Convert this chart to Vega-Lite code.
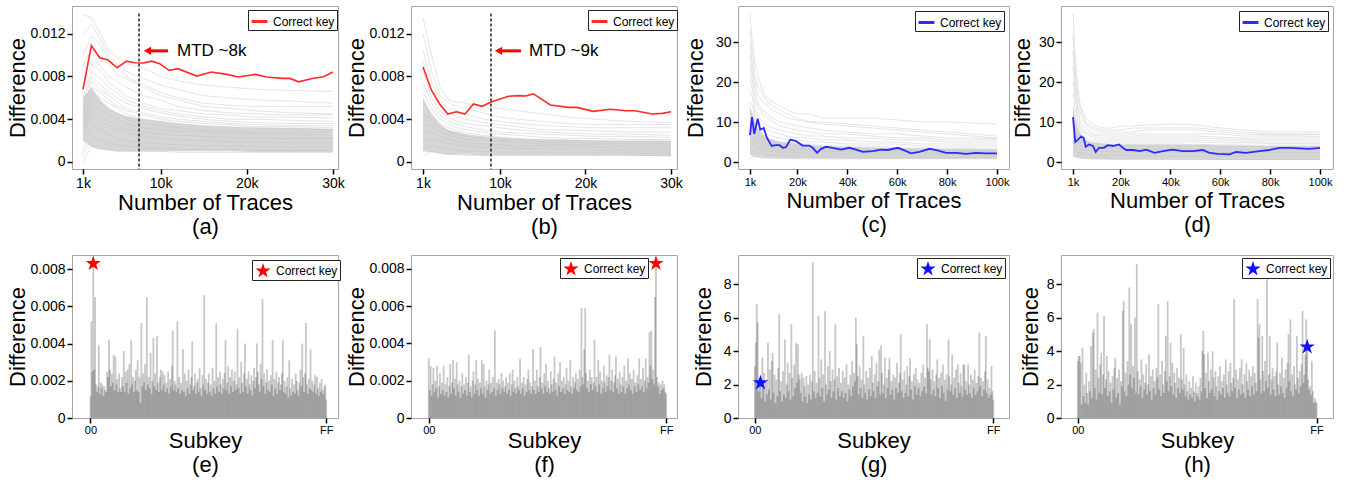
{
"$schema": "https://vega.github.io/schema/vega-lite/v6.json",
"background": "white",
"padding": {"left": 6, "top": 5, "right": 5, "bottom": 2},
"config": {
 "font": "Liberation Sans",
 "view": {"stroke": "#a6a6a6", "strokeWidth": 1},
 "axis": {"domain": false, "grid": false, "tickColor": "#000", "tickWidth": 1.5, "tickSize": 5, "labelColor": "#000", "labelFontSize": 14, "labelPadding": 2, "labelOverlap": false, "titleFontSize": 22, "titleFontWeight": "normal", "titleColor": "#000"},
 "legend": {"strokeColor": "#222", "fillColor": "#fff", "padding": 2, "labelFontSize": 12, "labelColor": "#000"}
},
"datasets": {
 "A": [
  {"x":1000,"lo":0.002,"hi":0.006,"l1":0.0138,"l2":0.012,"l3":0.01,"l4":0.009,"l5":0.008,"l6":0.007,"l7":0.006,"l8":0.0055,"l9":0.005,"l10":0.0045,"l11":0.004,"l12":0.0035,"l13":0.003,"l14":0.0025,"l15":0.002,"l16":0.001,"l17":0.0005,"l18":0},
  {"x":2000,"lo":0.0014,"hi":0.007,"l1":0.0135,"l2":0.0128,"l3":0.0118,"l4":0.0105,"l5":0.0095,"l6":0.0092,"l7":0.0085,"l8":0.008,"l9":0.0075,"l10":0.007,"l11":0.0065,"l12":0.006,"l13":0.0055,"l14":0.005,"l15":0.0045,"l16":0.0035,"l17":0.0025,"l18":0.0015},
  {"x":3000,"lo":0.0012,"hi":0.0058,"l1":0.012,"l2":0.0115,"l3":0.011,"l4":0.0096,"l5":0.009,"l6":0.0085,"l7":0.0078,"l8":0.0072,"l9":0.0068,"l10":0.0065,"l11":0.006,"l12":0.0055,"l13":0.0048,"l14":0.0042,"l15":0.0038,"l16":0.003,"l17":0.002,"l18":0.0012},
  {"x":4000,"lo":0.0011,"hi":0.005,"l1":0.0105,"l2":0.01,"l3":0.0095,"l4":0.0092,"l5":0.008,"l6":0.0075,"l7":0.007,"l8":0.0065,"l9":0.0062,"l10":0.0058,"l11":0.0055,"l12":0.005,"l13":0.0044,"l14":0.0038,"l15":0.0034,"l16":0.0026,"l17":0.0018,"l18":0.0011},
  {"x":5000,"lo":0.001,"hi":0.0046,"l1":0.0098,"l2":0.009,"l3":0.0088,"l4":0.0082,"l5":0.0075,"l6":0.0068,"l7":0.0064,"l8":0.006,"l9":0.0056,"l10":0.0052,"l11":0.005,"l12":0.0045,"l13":0.004,"l14":0.0034,"l15":0.003,"l16":0.0022,"l17":0.0016,"l18":0.001},
  {"x":6000,"lo":0.001,"hi":0.0043,"l1":0.0092,"l2":0.0085,"l3":0.008,"l4":0.0078,"l5":0.007,"l6":0.0062,"l7":0.0058,"l8":0.0055,"l9":0.005,"l10":0.0048,"l11":0.0045,"l12":0.004,"l13":0.0036,"l14":0.003,"l15":0.0027,"l16":0.002,"l17":0.0015,"l18":0.001},
  {"x":8000,"lo":0.001,"hi":0.004,"l1":0.0088,"l2":0.0078,"l3":0.0072,"l4":0.007,"l5":0.0062,"l6":0.0055,"l7":0.0052,"l8":0.005,"l9":0.0046,"l10":0.0044,"l11":0.004,"l12":0.0036,"l13":0.0032,"l14":0.0028,"l15":0.0024,"l16":0.0018,"l17":0.0013,"l18":0.001},
  {"x":10000,"lo":0.001,"hi":0.0038,"l1":0.008,"l2":0.0072,"l3":0.0065,"l4":0.0062,"l5":0.0058,"l6":0.005,"l7":0.0048,"l8":0.0046,"l9":0.0042,"l10":0.004,"l11":0.0038,"l12":0.0034,"l13":0.003,"l14":0.0026,"l15":0.0022,"l16":0.0017,"l17":0.0013,"l18":0.001},
  {"x":12000,"lo":0.001,"hi":0.0036,"l1":0.0076,"l2":0.0068,"l3":0.006,"l4":0.0058,"l5":0.0052,"l6":0.0048,"l7":0.0045,"l8":0.0043,"l9":0.004,"l10":0.0038,"l11":0.0036,"l12":0.0032,"l13":0.0029,"l14":0.0025,"l15":0.0021,"l16":0.0016,"l17":0.0012,"l18":0.0009},
  {"x":15000,"lo":0.001,"hi":0.0034,"l1":0.0072,"l2":0.0062,"l3":0.0055,"l4":0.0052,"l5":0.0048,"l6":0.0045,"l7":0.0042,"l8":0.004,"l9":0.0038,"l10":0.0036,"l11":0.0034,"l12":0.003,"l13":0.0028,"l14":0.0024,"l15":0.002,"l16":0.0015,"l17":0.0012,"l18":0.0009},
  {"x":18000,"lo":0.001,"hi":0.0033,"l1":0.007,"l2":0.006,"l3":0.0053,"l4":0.005,"l5":0.0046,"l6":0.0044,"l7":0.004,"l8":0.0038,"l9":0.0036,"l10":0.0035,"l11":0.0033,"l12":0.0029,"l13":0.0027,"l14":0.0023,"l15":0.0019,"l16":0.0015,"l17":0.0012,"l18":0.0009},
  {"x":21000,"lo":0.0009,"hi":0.0032,"l1":0.0068,"l2":0.0058,"l3":0.0052,"l4":0.0048,"l5":0.0045,"l6":0.0042,"l7":0.004,"l8":0.0037,"l9":0.0035,"l10":0.0033,"l11":0.0032,"l12":0.0028,"l13":0.0026,"l14":0.0022,"l15":0.0019,"l16":0.0014,"l17":0.0011,"l18":0.0009},
  {"x":25000,"lo":0.0009,"hi":0.0032,"l1":0.0067,"l2":0.0057,"l3":0.0052,"l4":0.0046,"l5":0.0044,"l6":0.0042,"l7":0.0039,"l8":0.0036,"l9":0.0034,"l10":0.0033,"l11":0.0031,"l12":0.0028,"l13":0.0026,"l14":0.0022,"l15":0.0018,"l16":0.0014,"l17":0.0011,"l18":0.0009},
  {"x":30000,"lo":0.0009,"hi":0.0031,"l1":0.0066,"l2":0.0055,"l3":0.0052,"l4":0.0045,"l5":0.0044,"l6":0.0041,"l7":0.0038,"l8":0.0036,"l9":0.0034,"l10":0.0032,"l11":0.003,"l12":0.0028,"l13":0.0025,"l14":0.0022,"l15":0.0018,"l16":0.0014,"l17":0.0011,"l18":0.0009}
 ],
 "B": [
  {"x":1000,"lo":0.001,"hi":0.006,"l1":0.0135,"l2":0.012,"l3":0.0105,"l4":0.0095,"l5":0.0085,"l6":0.0075,"l7":0.0065,"l8":0.0055,"l9":0.0045,"l10":0.0035,"l11":0.0028,"l12":0.002,"l13":0.0012,"l14":0.0005},
  {"x":2000,"lo":0.0009,"hi":0.0045,"l1":0.01,"l2":0.0085,"l3":0.0075,"l4":0.0068,"l5":0.006,"l6":0.0055,"l7":0.005,"l8":0.0045,"l9":0.004,"l10":0.0034,"l11":0.0028,"l12":0.0022,"l13":0.0016,"l14":0.001},
  {"x":3000,"lo":0.0008,"hi":0.0035,"l1":0.007,"l2":0.0062,"l3":0.0058,"l4":0.0052,"l5":0.0048,"l6":0.0044,"l7":0.004,"l8":0.0036,"l9":0.0032,"l10":0.0028,"l11":0.0024,"l12":0.002,"l13":0.0014,"l14":0.0008},
  {"x":4000,"lo":0.0007,"hi":0.003,"l1":0.0058,"l2":0.0055,"l3":0.005,"l4":0.0046,"l5":0.0042,"l6":0.0038,"l7":0.0035,"l8":0.0032,"l9":0.0028,"l10":0.0025,"l11":0.0021,"l12":0.0017,"l13":0.0012,"l14":0.0007},
  {"x":5000,"lo":0.0007,"hi":0.0028,"l1":0.0056,"l2":0.0052,"l3":0.0048,"l4":0.0042,"l5":0.0038,"l6":0.0035,"l7":0.0032,"l8":0.0029,"l9":0.0026,"l10":0.0023,"l11":0.0019,"l12":0.0016,"l13":0.0011,"l14":0.0007},
  {"x":6000,"lo":0.0007,"hi":0.0026,"l1":0.0055,"l2":0.005,"l3":0.0045,"l4":0.004,"l5":0.0036,"l6":0.0033,"l7":0.003,"l8":0.0027,"l9":0.0024,"l10":0.0021,"l11":0.0018,"l12":0.0015,"l13":0.001,"l14":0.0006},
  {"x":8000,"lo":0.0006,"hi":0.0024,"l1":0.0052,"l2":0.0046,"l3":0.004,"l4":0.0037,"l5":0.0034,"l6":0.003,"l7":0.0028,"l8":0.0025,"l9":0.0022,"l10":0.002,"l11":0.0017,"l12":0.0014,"l13":0.001,"l14":0.0006},
  {"x":10000,"lo":0.0006,"hi":0.0023,"l1":0.005,"l2":0.0042,"l3":0.0038,"l4":0.0035,"l5":0.0032,"l6":0.0028,"l7":0.0026,"l8":0.0023,"l9":0.0021,"l10":0.0019,"l11":0.0016,"l12":0.0013,"l13":0.0009,"l14":0.0006},
  {"x":12000,"lo":0.0006,"hi":0.0022,"l1":0.0048,"l2":0.004,"l3":0.0036,"l4":0.0033,"l5":0.003,"l6":0.0027,"l7":0.0025,"l8":0.0022,"l9":0.002,"l10":0.0018,"l11":0.0015,"l12":0.0013,"l13":0.0009,"l14":0.0006},
  {"x":15000,"lo":0.0006,"hi":0.0021,"l1":0.0045,"l2":0.0038,"l3":0.0034,"l4":0.003,"l5":0.0028,"l6":0.0026,"l7":0.0023,"l8":0.0021,"l9":0.0019,"l10":0.0017,"l11":0.0015,"l12":0.0012,"l13":0.0009,"l14":0.0006},
  {"x":18000,"lo":0.0006,"hi":0.0021,"l1":0.0042,"l2":0.0036,"l3":0.0033,"l4":0.003,"l5":0.0027,"l6":0.0025,"l7":0.0022,"l8":0.002,"l9":0.0018,"l10":0.0016,"l11":0.0014,"l12":0.0012,"l13":0.0008,"l14":0.0006},
  {"x":21000,"lo":0.0006,"hi":0.002,"l1":0.004,"l2":0.0035,"l3":0.0032,"l4":0.0029,"l5":0.0026,"l6":0.0024,"l7":0.0022,"l8":0.002,"l9":0.0018,"l10":0.0016,"l11":0.0014,"l12":0.0011,"l13":0.0008,"l14":0.0006},
  {"x":25000,"lo":0.0006,"hi":0.002,"l1":0.0038,"l2":0.0035,"l3":0.0032,"l4":0.0028,"l5":0.0026,"l6":0.0024,"l7":0.0021,"l8":0.0019,"l9":0.0017,"l10":0.0015,"l11":0.0013,"l12":0.0011,"l13":0.0008,"l14":0.0006},
  {"x":30000,"lo":0.0005,"hi":0.002,"l1":0.0037,"l2":0.0035,"l3":0.0032,"l4":0.0028,"l5":0.0025,"l6":0.0023,"l7":0.0021,"l8":0.0019,"l9":0.0017,"l10":0.0015,"l11":0.0013,"l12":0.0011,"l13":0.0008,"l14":0.0006}
 ],
 "C": [
  {"x":1000,"lo":2,"hi":14,"l1":37,"l2":33,"l3":30,"l4":27,"l5":24,"l6":21,"l7":18,"l8":15,"l9":12,"l10":10,"l11":8,"l12":6,"l13":4,"l14":2,"l15":0.5},
  {"x":2000,"lo":1.5,"hi":12,"l1":30,"l2":27,"l3":24,"l4":22,"l5":20,"l6":18,"l7":16,"l8":14,"l9":12,"l10":10,"l11":8,"l12":6,"l13":5,"l14":3,"l15":1.5},
  {"x":3000,"lo":1.3,"hi":10,"l1":25,"l2":22,"l3":20,"l4":18,"l5":16,"l6":14,"l7":12,"l8":11,"l9":9,"l10":8,"l11":7,"l12":5.5,"l13":4,"l14":2.5,"l15":1.2},
  {"x":4000,"lo":1.2,"hi":8.5,"l1":22,"l2":19,"l3":17,"l4":15,"l5":14,"l6":12,"l7":10,"l8":9,"l9":8,"l10":7,"l11":6,"l12":5,"l13":3.5,"l14":2.2,"l15":1.1},
  {"x":6000,"lo":1.1,"hi":7,"l1":18,"l2":17,"l3":15,"l4":13,"l5":12,"l6":10,"l7":9,"l8":8,"l9":7,"l10":6,"l11":5,"l12":4,"l13":3,"l14":2,"l15":1},
  {"x":8000,"lo":1,"hi":6,"l1":16,"l2":15,"l3":14,"l4":12,"l5":11,"l6":9,"l7":8,"l8":7,"l9":6,"l10":5.5,"l11":4.5,"l12":3.5,"l13":2.8,"l14":1.8,"l15":1},
  {"x":10000,"lo":1,"hi":5.5,"l1":15,"l2":14,"l3":13,"l4":11,"l5":10,"l6":8.5,"l7":7.5,"l8":6.5,"l9":5.5,"l10":5,"l11":4,"l12":3.5,"l13":2.6,"l14":1.7,"l15":0.9},
  {"x":13000,"lo":1,"hi":5,"l1":14,"l2":13,"l3":12,"l4":10,"l5":9,"l6":8,"l7":7,"l8":6,"l9":5,"l10":4.5,"l11":4,"l12":3,"l13":2.5,"l14":1.6,"l15":0.9},
  {"x":16000,"lo":0.9,"hi":4.8,"l1":13,"l2":12,"l3":11,"l4":9.5,"l5":8.5,"l6":7.5,"l7":6.5,"l8":5.5,"l9":5,"l10":4.5,"l11":3.5,"l12":3,"l13":2.4,"l14":1.5,"l15":0.9},
  {"x":20000,"lo":0.9,"hi":4.5,"l1":12,"l2":11,"l3":10.5,"l4":9,"l5":8,"l6":7,"l7":6,"l8":5.5,"l9":4.5,"l10":4,"l11":3.5,"l12":3,"l13":2.3,"l14":1.5,"l15":0.8},
  {"x":25000,"lo":0.9,"hi":4.2,"l1":12,"l2":10,"l3":10,"l4":8.5,"l5":7.5,"l6":6.5,"l7":6,"l8":5,"l9":4.5,"l10":4,"l11":3.5,"l12":2.8,"l13":2.2,"l14":1.4,"l15":0.8},
  {"x":30000,"lo":0.9,"hi":4,"l1":11,"l2":10,"l3":9.5,"l4":8,"l5":7,"l6":6.5,"l7":5.5,"l8":5,"l9":4,"l10":3.5,"l11":3,"l12":2.7,"l13":2.1,"l14":1.4,"l15":0.8},
  {"x":40000,"lo":0.8,"hi":3.8,"l1":11,"l2":9.5,"l3":9,"l4":7.5,"l5":7,"l6":6,"l7":5.5,"l8":4.5,"l9":4,"l10":3.5,"l11":3,"l12":2.6,"l13":2,"l14":1.3,"l15":0.8},
  {"x":50000,"lo":0.8,"hi":3.6,"l1":11,"l2":9,"l3":8.5,"l4":7,"l5":6.5,"l6":6,"l7":5,"l8":4.5,"l9":4,"l10":3.5,"l11":3,"l12":2.5,"l13":2,"l14":1.3,"l15":0.8},
  {"x":60000,"lo":0.8,"hi":3.5,"l1":10.5,"l2":8.5,"l3":8,"l4":7,"l5":6,"l6":5.5,"l7":5,"l8":4.5,"l9":3.5,"l10":3,"l11":2.8,"l12":2.5,"l13":2,"l14":1.3,"l15":0.8},
  {"x":70000,"lo":0.8,"hi":3.4,"l1":10,"l2":8,"l3":7.5,"l4":6.5,"l5":6,"l6":5.5,"l7":4.5,"l8":4,"l9":3.5,"l10":3,"l11":2.8,"l12":2.4,"l13":1.9,"l14":1.2,"l15":0.8},
  {"x":80000,"lo":0.8,"hi":3.3,"l1":10,"l2":7.5,"l3":7,"l4":6,"l5":5.5,"l6":5,"l7":4.5,"l8":4,"l9":3.5,"l10":3,"l11":2.8,"l12":2.4,"l13":1.9,"l14":1.2,"l15":0.8},
  {"x":90000,"lo":0.8,"hi":3.3,"l1":9.8,"l2":7,"l3":6.5,"l4":6,"l5":5.5,"l6":5,"l7":4.5,"l8":4,"l9":3.5,"l10":3,"l11":2.7,"l12":2.3,"l13":1.8,"l14":1.2,"l15":0.8},
  {"x":100000,"lo":0.8,"hi":3.2,"l1":9.5,"l2":6.5,"l3":6,"l4":5.8,"l5":5.5,"l6":5,"l7":4.5,"l8":4,"l9":3.5,"l10":3,"l11":2.7,"l12":2.3,"l13":1.8,"l14":1.2,"l15":0.8}
 ],
 "D": [
  {"x":1000,"lo":1.5,"hi":14,"l1":37,"l2":32,"l3":28,"l4":24,"l5":20,"l6":17,"l7":14,"l8":12,"l9":10,"l10":8,"l11":6,"l12":4,"l13":2.5,"l14":1},
  {"x":2000,"lo":1.2,"hi":10,"l1":25,"l2":22,"l3":19,"l4":17,"l5":15,"l6":13,"l7":11,"l8":10,"l9":8.5,"l10":7,"l11":5.5,"l12":4,"l13":2.8,"l14":1.5},
  {"x":3000,"lo":1,"hi":8,"l1":18,"l2":16,"l3":14,"l4":13,"l5":11,"l6":10,"l7":9,"l8":8,"l9":7,"l10":6,"l11":5,"l12":3.5,"l13":2.4,"l14":1.2},
  {"x":4000,"lo":0.9,"hi":6.5,"l1":14,"l2":13,"l3":12,"l4":10,"l5":9,"l6":8,"l7":7,"l8":6.5,"l9":6,"l10":5,"l11":4,"l12":3.2,"l13":2.2,"l14":1},
  {"x":6000,"lo":0.8,"hi":5.5,"l1":11,"l2":10,"l3":9.5,"l4":8.5,"l5":7.5,"l6":7,"l7":6,"l8":5.5,"l9":5,"l10":4.5,"l11":3.8,"l12":3,"l13":2,"l14":0.9},
  {"x":8000,"lo":0.7,"hi":5,"l1":10,"l2":9,"l3":8.5,"l4":7.5,"l5":7,"l6":6.5,"l7":5.5,"l8":5,"l9":4.5,"l10":4,"l11":3.5,"l12":2.8,"l13":1.8,"l14":0.8},
  {"x":10000,"lo":0.7,"hi":4.8,"l1":9,"l2":8.5,"l3":8,"l4":7,"l5":6.5,"l6":6,"l7":5.5,"l8":5,"l9":4.5,"l10":4,"l11":3.5,"l12":2.8,"l13":1.8,"l14":0.8},
  {"x":13000,"lo":0.7,"hi":4.6,"l1":8.5,"l2":8,"l3":7.5,"l4":7,"l5":6.5,"l6":6,"l7":5.5,"l8":5,"l9":4.5,"l10":4,"l11":3.5,"l12":2.7,"l13":1.7,"l14":0.8},
  {"x":16000,"lo":0.6,"hi":4.5,"l1":8.5,"l2":8,"l3":7.5,"l4":7,"l5":6.5,"l6":6,"l7":5.5,"l8":5,"l9":4.5,"l10":4,"l11":3.4,"l12":2.6,"l13":1.7,"l14":0.7},
  {"x":20000,"lo":0.6,"hi":4.4,"l1":9,"l2":8,"l3":7.5,"l4":7,"l5":6.5,"l6":6,"l7":5.5,"l8":5,"l9":4.5,"l10":4,"l11":3.3,"l12":2.6,"l13":1.6,"l14":0.7},
  {"x":25000,"lo":0.6,"hi":4.4,"l1":9,"l2":8.5,"l3":7.5,"l4":7,"l5":6.5,"l6":6,"l7":5.5,"l8":5,"l9":4.5,"l10":4,"l11":3.3,"l12":2.5,"l13":1.6,"l14":0.7},
  {"x":30000,"lo":0.6,"hi":4.4,"l1":9.2,"l2":8.5,"l3":8,"l4":7,"l5":6.5,"l6":6,"l7":5.5,"l8":5,"l9":4.5,"l10":4,"l11":3.2,"l12":2.5,"l13":1.6,"l14":0.7},
  {"x":40000,"lo":0.6,"hi":4.4,"l1":9.5,"l2":8.5,"l3":8,"l4":7,"l5":6.5,"l6":6,"l7":5.5,"l8":5,"l9":4.5,"l10":4,"l11":3.2,"l12":2.5,"l13":1.5,"l14":0.6},
  {"x":50000,"lo":0.6,"hi":4.3,"l1":9.3,"l2":8.5,"l3":8,"l4":7,"l5":6.5,"l6":6,"l7":5.5,"l8":5,"l9":4.4,"l10":4,"l11":3.2,"l12":2.4,"l13":1.5,"l14":0.6},
  {"x":60000,"lo":0.5,"hi":4.2,"l1":8.5,"l2":8,"l3":7.5,"l4":7,"l5":6.2,"l6":5.8,"l7":5.3,"l8":4.8,"l9":4.3,"l10":3.8,"l11":3.1,"l12":2.4,"l13":1.5,"l14":0.6},
  {"x":70000,"lo":0.5,"hi":4.1,"l1":8,"l2":7.5,"l3":7,"l4":6.5,"l5":6,"l6":5.6,"l7":5.2,"l8":4.8,"l9":4.2,"l10":3.8,"l11":3.1,"l12":2.4,"l13":1.5,"l14":0.6},
  {"x":80000,"lo":0.5,"hi":4,"l1":7.5,"l2":7,"l3":6.8,"l4":6.5,"l5":6,"l6":5.5,"l7":5,"l8":4.6,"l9":4.2,"l10":3.7,"l11":3,"l12":2.3,"l13":1.5,"l14":0.6},
  {"x":90000,"lo":0.5,"hi":4,"l1":7.5,"l2":7,"l3":6.8,"l4":6.5,"l5":6,"l6":5.5,"l7":5,"l8":4.6,"l9":4.2,"l10":3.7,"l11":3,"l12":2.3,"l13":1.5,"l14":0.6},
  {"x":100000,"lo":0.5,"hi":4,"l1":7.5,"l2":7,"l3":6.8,"l4":6.3,"l5":6,"l6":5.5,"l7":5,"l8":4.6,"l9":4.2,"l10":3.7,"l11":3,"l12":2.3,"l13":1.5,"l14":0.6}
 ],
 "RA": [{"x":1000,"y":0.0068},{"x":1970,"y":0.0109},{"x":2940,"y":0.00976},{"x":3900,"y":0.00954},{"x":4960,"y":0.00882},{"x":6050,"y":0.00944},{"x":7000,"y":0.00929},{"x":8000,"y":0.00926},{"x":8960,"y":0.00944},{"x":9900,"y":0.0092},{"x":11000,"y":0.00857},{"x":12000,"y":0.00873},{"x":14200,"y":0.00804},{"x":15900,"y":0.00842},{"x":17700,"y":0.0082},{"x":19000,"y":0.00795},{"x":21000,"y":0.0082},{"x":22300,"y":0.00795},{"x":24100,"y":0.00782},{"x":25000,"y":0.00782},{"x":26000,"y":0.0075},{"x":27600,"y":0.00782},{"x":28900,"y":0.00798},{"x":30000,"y":0.00842}],
 "RB": [{"x":1000,"y":0.00888},{"x":1970,"y":0.00674},{"x":2950,"y":0.00543},{"x":3900,"y":0.00449},{"x":4900,"y":0.0047},{"x":5900,"y":0.00449},{"x":6900,"y":0.00543},{"x":7900,"y":0.00521},{"x":8900,"y":0.00558},{"x":9850,"y":0.00584},{"x":11000,"y":0.00615},{"x":12200,"y":0.00621},{"x":13000,"y":0.00618},{"x":13900,"y":0.00637},{"x":15900,"y":0.00533},{"x":18000,"y":0.00511},{"x":19000,"y":0.00511},{"x":20900,"y":0.00474},{"x":22900,"y":0.00493},{"x":24700,"y":0.0048},{"x":25800,"y":0.0048},{"x":27800,"y":0.00449},{"x":29000,"y":0.00455},{"x":30000,"y":0.0047}],
 "RC": [{"x":1000,"y":6.7},{"x":1800,"y":11.2},{"x":2700,"y":7.0},{"x":4100,"y":10.8},{"x":5100,"y":8.1},{"x":6500,"y":8.5},{"x":7800,"y":6.0},{"x":9700,"y":4.0},{"x":11400,"y":4.2},{"x":12800,"y":4.2},{"x":14100,"y":3.55},{"x":15400,"y":3.7},{"x":17200,"y":5.6},{"x":19400,"y":5.2},{"x":22100,"y":4.1},{"x":24800,"y":4.1},{"x":26100,"y":3.55},{"x":27900,"y":2.3},{"x":29500,"y":3.3},{"x":31500,"y":3.8},{"x":34100,"y":3.55},{"x":37500,"y":3.1},{"x":40800,"y":3.55},{"x":43500,"y":3.1},{"x":46200,"y":2.55},{"x":50200,"y":2.7},{"x":53500,"y":3.1},{"x":56200,"y":3.0},{"x":60200,"y":3.55},{"x":62200,"y":3.1},{"x":65500,"y":2.15},{"x":68900,"y":2.55},{"x":72900,"y":3.3},{"x":76200,"y":2.9},{"x":79600,"y":2.3},{"x":83600,"y":2.3},{"x":87600,"y":2.05},{"x":91600,"y":2.3},{"x":95600,"y":2.15},{"x":100000,"y":2.15}],
 "RD": [{"x":1000,"y":11.2},{"x":1900,"y":5.0},{"x":3000,"y":5.6},{"x":4300,"y":6.4},{"x":5300,"y":6.0},{"x":6100,"y":3.8},{"x":7400,"y":4.4},{"x":9000,"y":4.0},{"x":10100,"y":2.5},{"x":11400,"y":3.55},{"x":13300,"y":3.55},{"x":15000,"y":4.2},{"x":17000,"y":4.0},{"x":19400,"y":4.4},{"x":21000,"y":3.55},{"x":22300,"y":3.0},{"x":25000,"y":3.0},{"x":27700,"y":2.7},{"x":30400,"y":3.1},{"x":33700,"y":2.3},{"x":37000,"y":2.7},{"x":41000,"y":3.1},{"x":45000,"y":2.7},{"x":49000,"y":2.7},{"x":53000,"y":3.0},{"x":55700,"y":2.3},{"x":59000,"y":2.05},{"x":63700,"y":1.9},{"x":66400,"y":2.5},{"x":70400,"y":2.3},{"x":75700,"y":2.7},{"x":79700,"y":3.0},{"x":83700,"y":3.55},{"x":87700,"y":3.55},{"x":91700,"y":3.4},{"x":95700,"y":3.3},{"x":100000,"y":3.55}],
 "ann": [
  {"p":"a","x":7500,"yt":0.0139,"yb":-0.00066,"hx":8480,"tx":10860,"ty":0.0104,"lx":11900,"label":"MTD ~8k"},
  {"p":"b","x":8950,"yt":0.0139,"yb":-0.00066,"hx":9830,"tx":12460,"ty":0.0104,"lx":13390,"label":"MTD ~9k"}
 ],
 "stars": [
  {"p":"e","k":3,"v":0.0083},
  {"p":"f","k":244,"v":0.0083},
  {"p":"g","k":6,"v":2.1},
  {"p":"h","k":245,"v":4.25}
 ],
 "bars": [
{"k":0,"e":0.0012,"f":0.0032,"g":3.1,"h":3.4},{"k":1,"e":0.0052,"f":0.0015,"g":4.5,"h":3.7},{"k":2,"e":0.0025,"f":0.0028,"g":6.8,"h":3.7},{"k":3,"e":0.0083,"f":0.0012,"g":5.7,"h":3.3},{"k":4,"e":0.0026,"f":0.0018,"g":1.6,"h":0.8},{"k":5,"e":0.0065,"f":0.0027,"g":2.4,"h":4.2},{"k":6,"e":0.0018,"f":0.0014,"g":2.1,"h":1.3},{"k":7,"e":0.0014,"f":0.002,"g":1.2,"h":2.0},
{"k":8,"e":0.0017,"f":0.0016,"g":3.6,"h":0.9},{"k":9,"e":0.0039,"f":0.0028,"g":1.8,"h":2.7},{"k":10,"e":0.0013,"f":0.0011,"g":2.7,"h":1.5},{"k":11,"e":0.0019,"f":0.0017,"g":1.0,"h":0.8},{"k":12,"e":0.0016,"f":0.0024,"g":2.2,"h":2.2},{"k":13,"e":0.0018,"f":0.0013,"g":1.4,"h":1.6},{"k":14,"e":0.0012,"f":0.0019,"g":4.5,"h":4.3},{"k":15,"e":0.0017,"f":0.0015,"g":1.7,"h":1.2},
{"k":16,"e":0.0015,"f":0.0028,"g":2.9,"h":5.1},{"k":17,"e":0.0014,"f":0.0012,"g":1.1,"h":5.3},{"k":18,"e":0.0025,"f":0.0018,"g":3.4,"h":1.8},{"k":19,"e":0.0022,"f":0.0014,"g":3.9,"h":2.9},{"k":20,"e":0.0042,"f":0.0022,"g":1.5,"h":1.1},{"k":21,"e":0.0026,"f":0.0011,"g":2.6,"h":6.3},{"k":22,"e":0.0017,"f":0.0017,"g":0.9,"h":2.4},{"k":23,"e":0.0024,"f":0.0029,"g":2.3,"h":1.5},
{"k":24,"e":0.0019,"f":0.0013,"g":1.3,"h":3.2},{"k":25,"e":0.0034,"f":0.0019,"g":3.0,"h":3.9},{"k":26,"e":0.0015,"f":0.0031,"g":6.2,"h":1.4},{"k":27,"e":0.0033,"f":0.0016,"g":1.6,"h":2.6},{"k":28,"e":0.0018,"f":0.0021,"g":2.2,"h":6.1},{"k":29,"e":0.0021,"f":0.0012,"g":1.0,"h":1.8},{"k":30,"e":0.0014,"f":0.003,"g":2.8,"h":2.3},{"k":31,"e":0.0024,"f":0.0018,"g":1.4,"h":3.7},
{"k":32,"e":0.0016,"f":0.0014,"g":4.7,"h":1.3},{"k":33,"e":0.0014,"f":0.002,"g":1.2,"h":2.8},{"k":34,"e":0.0022,"f":0.0011,"g":2.0,"h":1.6},{"k":35,"e":0.0017,"f":0.0017,"g":3.3,"h":2.1},{"k":36,"e":0.0036,"f":0.0024,"g":1.6,"h":0.9},{"k":37,"e":0.0014,"f":0.0013,"g":2.7,"h":2.5},{"k":38,"e":0.0025,"f":0.0018,"g":1.1,"h":1.7},{"k":39,"e":0.0019,"f":0.0015,"g":5.6,"h":3.0},
{"k":40,"e":0.0026,"f":0.0022,"g":2.4,"h":3.6},{"k":41,"e":0.0013,"f":0.0012,"g":1.3,"h":1.2},{"k":42,"e":0.0029,"f":0.0019,"g":3.2,"h":2.4},{"k":43,"e":0.0016,"f":0.0034,"g":1.8,"h":1.5},{"k":44,"e":0.0042,"f":0.0014,"g":4.5,"h":2.9},{"k":45,"e":0.0018,"f":0.0017,"g":2.1,"h":0.8},{"k":46,"e":0.0022,"f":0.0011,"g":4.4,"h":2.2},{"k":47,"e":0.0014,"f":0.002,"g":2.6,"h":1.9},
{"k":48,"e":0.002,"f":0.0025,"g":2.3,"h":6.4},{"k":49,"e":0.0026,"f":0.0013,"g":1.5,"h":7.0},{"k":50,"e":0.0015,"f":0.0018,"g":2.7,"h":1.6},{"k":51,"e":0.0031,"f":0.0031,"g":1.0,"h":2.7},{"k":52,"e":0.0014,"f":0.0015,"g":2.4,"h":1.3},{"k":53,"e":0.0022,"f":0.0021,"g":1.9,"h":3.4},{"k":54,"e":0.0008,"f":0.0012,"g":1.3,"h":2.0},{"k":55,"e":0.0051,"f":0.0019,"g":2.5,"h":7.8},
{"k":56,"e":0.0017,"f":0.0016,"g":0.9,"h":2.6},{"k":57,"e":0.0024,"f":0.0031,"g":2.0,"h":5.6},{"k":58,"e":0.0019,"f":0.0013,"g":1.4,"h":1.8},{"k":59,"e":0.0029,"f":0.0029,"g":2.6,"h":3.1},{"k":60,"e":0.0015,"f":0.0017,"g":1.1,"h":2.4},{"k":61,"e":0.0065,"f":0.0011,"g":2.2,"h":6.0},{"k":62,"e":0.0018,"f":0.002,"g":9.3,"h":1.5},{"k":63,"e":0.0022,"f":0.0015,"g":1.6,"h":9.2},
{"k":64,"e":0.0016,"f":0.0018,"g":2.8,"h":2.8},{"k":65,"e":0.0035,"f":0.0026,"g":1.2,"h":1.4},{"k":66,"e":0.0013,"f":0.0013,"g":2.1,"h":2.3},{"k":67,"e":0.002,"f":0.0019,"g":1.5,"h":1.9},{"k":68,"e":0.0043,"f":0.0014,"g":6.1,"h":3.5},{"k":69,"e":0.0017,"f":0.0022,"g":2.4,"h":1.2},{"k":70,"e":0.0024,"f":0.0016,"g":1.3,"h":2.6},{"k":71,"e":0.0015,"f":0.0047,"g":3.5,"h":1.7},
{"k":72,"e":0.0044,"f":0.0012,"g":1.8,"h":2.1},{"k":73,"e":0.0019,"f":0.0019,"g":2.6,"h":3.2},{"k":74,"e":0.0014,"f":0.0015,"g":1.0,"h":1.4},{"k":75,"e":0.0022,"f":0.0021,"g":6.4,"h":2.0},{"k":76,"e":0.0026,"f":0.0018,"g":2.0,"h":3.8},{"k":77,"e":0.0015,"f":0.0013,"g":1.4,"h":1.6},{"k":78,"e":0.0025,"f":0.0024,"g":3.1,"h":2.5},{"k":79,"e":0.0018,"f":0.0016,"g":1.7,"h":1.1},
{"k":80,"e":0.0023,"f":0.002,"g":4.0,"h":2.9},{"k":81,"e":0.0014,"f":0.0014,"g":2.2,"h":1.8},{"k":82,"e":0.0019,"f":0.0017,"g":1.2,"h":2.2},{"k":83,"e":0.0016,"f":0.0022,"g":2.9,"h":1.4},{"k":84,"e":0.0025,"f":0.0013,"g":1.6,"h":3.0},{"k":85,"e":0.0013,"f":0.0019,"g":2.3,"h":2.4},{"k":86,"e":0.0021,"f":0.0015,"g":5.6,"h":6.8},{"k":87,"e":0.0017,"f":0.0024,"g":1.1,"h":1.7},
{"k":88,"e":0.0028,"f":0.0012,"g":2.5,"h":2.6},{"k":89,"e":0.0047,"f":0.0018,"g":1.8,"h":1.3},{"k":90,"e":0.0015,"f":0.0026,"g":3.0,"h":3.4},{"k":91,"e":0.002,"f":0.0014,"g":1.3,"h":2.0},{"k":92,"e":0.0018,"f":0.002,"g":2.1,"h":1.5},{"k":93,"e":0.0014,"f":0.0016,"g":1.6,"h":2.8},{"k":94,"e":0.0052,"f":0.0013,"g":2.8,"h":4.9},{"k":95,"e":0.0016,"f":0.0022,"g":1.2,"h":2.2},
{"k":96,"e":0.0022,"f":0.0017,"g":2.4,"h":7.0},{"k":97,"e":0.0013,"f":0.0015,"g":1.5,"h":1.6},{"k":98,"e":0.0019,"f":0.0032,"g":3.2,"h":2.5},{"k":99,"e":0.0015,"f":0.0013,"g":1.0,"h":4.5},{"k":100,"e":0.0037,"f":0.0019,"g":2.0,"h":1.9},{"k":101,"e":0.0014,"f":0.0016,"g":1.7,"h":3.3},{"k":102,"e":0.0024,"f":0.0022,"g":2.6,"h":1.4},{"k":103,"e":0.0012,"f":0.0012,"g":1.3,"h":2.7},
{"k":104,"e":0.002,"f":0.0018,"g":3.4,"h":2.1},{"k":105,"e":0.0016,"f":0.0014,"g":1.9,"h":1.2},{"k":106,"e":0.0026,"f":0.0021,"g":2.7,"h":3.0},{"k":107,"e":0.0013,"f":0.0026,"g":2.2,"h":1.8},{"k":108,"e":0.0018,"f":0.0015,"g":6.0,"h":2.4},{"k":109,"e":0.0022,"f":0.0019,"g":4.4,"h":1.5},{"k":110,"e":0.0041,"f":0.0013,"g":2.5,"h":5.0},{"k":111,"e":0.0015,"f":0.0017,"g":1.4,"h":2.3},
{"k":112,"e":0.0017,"f":0.0037,"g":3.1,"h":1.7},{"k":113,"e":0.0024,"f":0.0015,"g":1.8,"h":4.2},{"k":114,"e":0.0013,"f":0.002,"g":2.3,"h":2.0},{"k":115,"e":0.0019,"f":0.0013,"g":1.2,"h":1.3},{"k":116,"e":0.0021,"f":0.0026,"g":4.9,"h":2.6},{"k":117,"e":0.0014,"f":0.0017,"g":2.0,"h":1.6},{"k":118,"e":0.0027,"f":0.0014,"g":1.5,"h":1.1},{"k":119,"e":0.0016,"f":0.0022,"g":2.8,"h":2.2},
{"k":120,"e":0.0012,"f":0.0038,"g":1.1,"h":1.4},{"k":121,"e":0.0023,"f":0.0016,"g":2.4,"h":1.8},{"k":122,"e":0.0018,"f":0.0019,"g":1.7,"h":1.2},{"k":123,"e":0.0066,"f":0.0013,"g":3.0,"h":2.5},{"k":124,"e":0.0015,"f":0.0024,"g":1.3,"h":1.6},{"k":125,"e":0.0021,"f":0.0017,"g":3.7,"h":1.0},{"k":126,"e":0.0013,"f":0.0029,"g":2.1,"h":2.1},{"k":127,"e":0.0019,"f":0.0014,"g":1.6,"h":1.5},
{"k":128,"e":0.0024,"f":0.002,"g":2.6,"h":1.3},{"k":129,"e":0.0014,"f":0.0016,"g":1.2,"h":1.9},{"k":130,"e":0.0018,"f":0.0013,"g":3.3,"h":1.1},{"k":131,"e":0.0012,"f":0.0025,"g":1.9,"h":2.4},{"k":132,"e":0.0027,"f":0.0018,"g":2.2,"h":1.6},{"k":133,"e":0.0016,"f":0.0014,"g":4.1,"h":4.0},{"k":134,"e":0.002,"f":0.0021,"g":1.4,"h":5.2},{"k":135,"e":0.0013,"f":0.0033,"g":4.35,"h":3.8},
{"k":136,"e":0.0051,"f":0.0015,"g":2.7,"h":1.8},{"k":137,"e":0.0017,"f":0.0019,"g":1.5,"h":2.7},{"k":138,"e":0.0022,"f":0.0012,"g":2.0,"h":1.2},{"k":139,"e":0.0014,"f":0.0024,"g":3.6,"h":3.9},{"k":140,"e":0.0025,"f":0.0017,"g":1.2,"h":2.2},{"k":141,"e":0.0018,"f":0.003,"g":2.4,"h":1.5},{"k":142,"e":0.0013,"f":0.0014,"g":1.8,"h":2.9},{"k":143,"e":0.0021,"f":0.002,"g":2.9,"h":1.7},
{"k":144,"e":0.0016,"f":0.0016,"g":3.6,"h":4.0},{"k":145,"e":0.0024,"f":0.0022,"g":1.4,"h":2.4},{"k":146,"e":0.0042,"f":0.0013,"g":2.2,"h":1.3},{"k":147,"e":0.0015,"f":0.0018,"g":1.7,"h":2.8},{"k":148,"e":0.0019,"f":0.0027,"g":2.6,"h":1.9},{"k":149,"e":0.0028,"f":0.0015,"g":1.1,"h":1.1},{"k":150,"e":0.0013,"f":0.002,"g":2.4,"h":2.5},{"k":151,"e":0.0022,"f":0.0014,"g":1.8,"h":1.6},
{"k":152,"e":0.0017,"f":0.0031,"g":3.3,"h":3.1},{"k":153,"e":0.0026,"f":0.0017,"g":1.5,"h":1.4},{"k":154,"e":0.0014,"f":0.0013,"g":2.1,"h":2.2},{"k":155,"e":0.002,"f":0.0022,"g":2.7,"h":1.8},{"k":156,"e":0.0025,"f":0.0016,"g":5.0,"h":2.6},{"k":157,"e":0.0015,"f":0.0019,"g":1.6,"h":1.2},{"k":158,"e":0.0018,"f":0.0024,"g":2.3,"h":3.5},{"k":159,"e":0.0048,"f":0.0015,"g":1.2,"h":2.0},
{"k":160,"e":0.0016,"f":0.0021,"g":2.8,"h":1.5},{"k":161,"e":0.0022,"f":0.0014,"g":1.5,"h":2.8},{"k":162,"e":0.0013,"f":0.0026,"g":2.0,"h":1.3},{"k":163,"e":0.003,"f":0.0017,"g":3.1,"h":3.3},{"k":164,"e":0.0019,"f":0.0059,"g":1.3,"h":2.1},{"k":165,"e":0.0014,"f":0.0022,"g":2.5,"h":1.6},{"k":166,"e":0.0024,"f":0.0018,"g":3.6,"h":2.4},{"k":167,"e":0.004,"f":0.0037,"g":1.7,"h":7.1},
{"k":168,"e":0.0017,"f":0.0059,"g":2.2,"h":1.8},{"k":169,"e":0.0021,"f":0.0024,"g":1.1,"h":2.9},{"k":170,"e":0.0013,"f":0.0016,"g":2.6,"h":1.2},{"k":171,"e":0.0025,"f":0.002,"g":1.9,"h":2.3},{"k":172,"e":0.0018,"f":0.0014,"g":3.0,"h":1.7},{"k":173,"e":0.0015,"f":0.0026,"g":1.4,"h":3.0},{"k":174,"e":0.0023,"f":0.0018,"g":2.3,"h":1.4},{"k":175,"e":0.0012,"f":0.0022,"g":1.8,"h":3.5},
{"k":176,"e":0.002,"f":0.0015,"g":2.1,"h":2.0},{"k":177,"e":0.0027,"f":0.0019,"g":1.3,"h":1.5},{"k":178,"e":0.0016,"f":0.0042,"g":2.7,"h":2.6},{"k":179,"e":0.0022,"f":0.0017,"g":1.6,"h":1.2},{"k":180,"e":0.004,"f":0.0022,"g":3.2,"h":3.3},{"k":181,"e":0.0025,"f":0.0014,"g":1.9,"h":2.2},{"k":182,"e":0.0018,"f":0.0031,"g":2.4,"h":1.7},{"k":183,"e":0.0014,"f":0.0018,"g":1.5,"h":2.9},
{"k":184,"e":0.0029,"f":0.0025,"g":5.6,"h":1.3},{"k":185,"e":0.0021,"f":0.0013,"g":3.0,"h":2.5},{"k":186,"e":0.0064,"f":0.002,"g":2.8,"h":1.9},{"k":187,"e":0.0017,"f":0.0016,"g":4.7,"h":3.1},{"k":188,"e":0.0024,"f":0.0028,"g":2.3,"h":1.4},{"k":189,"e":0.0013,"f":0.0019,"g":1.4,"h":2.7},{"k":190,"e":0.0019,"f":0.0014,"g":2.9,"h":2.1},{"k":191,"e":0.0026,"f":0.0023,"g":1.7,"h":1.6},
{"k":192,"e":0.0015,"f":0.0017,"g":2.2,"h":7.1},{"k":193,"e":0.002,"f":0.0022,"g":1.3,"h":4.8},{"k":194,"e":0.0014,"f":0.0034,"g":2.6,"h":5.6},{"k":195,"e":0.0023,"f":0.0015,"g":3.5,"h":2.3},{"k":196,"e":0.0018,"f":0.002,"g":1.8,"h":1.5},{"k":197,"e":0.0042,"f":0.0026,"g":2.4,"h":4.9},{"k":198,"e":0.0012,"f":0.0014,"g":1.2,"h":2.8},{"k":199,"e":0.0021,"f":0.0019,"g":2.7,"h":1.6},
{"k":200,"e":0.0016,"f":0.0023,"g":1.9,"h":3.4},{"k":201,"e":0.0025,"f":0.0033,"g":3.2,"h":2.2},{"k":202,"e":0.0013,"f":0.0016,"g":1.5,"h":8.5},{"k":203,"e":0.0019,"f":0.0021,"g":2.3,"h":1.8},{"k":204,"e":0.0022,"f":0.0013,"g":1.0,"h":2.6},{"k":205,"e":0.0015,"f":0.0025,"g":2.6,"h":4.9},{"k":206,"e":0.0018,"f":0.0018,"g":1.7,"h":1.4},{"k":207,"e":0.0024,"f":0.0014,"g":4.7,"h":2.3},
{"k":208,"e":0.0042,"f":0.0022,"g":2.5,"h":3.0},{"k":209,"e":0.0014,"f":0.0017,"g":1.6,"h":1.7},{"k":210,"e":0.002,"f":0.0028,"g":2.0,"h":2.5},{"k":211,"e":0.0013,"f":0.0013,"g":3.8,"h":1.3},{"k":212,"e":0.0017,"f":0.002,"g":1.4,"h":2.8},{"k":213,"e":0.0022,"f":0.0016,"g":2.4,"h":4.5},{"k":214,"e":0.0011,"f":0.0032,"g":1.8,"h":2.0},{"k":215,"e":0.0031,"f":0.0018,"g":2.9,"h":1.4},
{"k":216,"e":0.0016,"f":0.0024,"g":1.2,"h":2.7},{"k":217,"e":0.0012,"f":0.0015,"g":3.2,"h":1.9},{"k":218,"e":0.0021,"f":0.0021,"g":2.1,"h":3.6},{"k":219,"e":0.0014,"f":0.0013,"g":1.5,"h":1.5},{"k":220,"e":0.0018,"f":0.0026,"g":2.7,"h":2.4},{"k":221,"e":0.0013,"f":0.0017,"g":1.9,"h":1.2},{"k":222,"e":0.0024,"f":0.0019,"g":1.3,"h":2.9},{"k":223,"e":0.002,"f":0.0014,"g":3.2,"h":1.8},
{"k":224,"e":0.0015,"f":0.0023,"g":3.2,"h":3.3},{"k":225,"e":0.0012,"f":0.0018,"g":1.7,"h":5.0},{"k":226,"e":0.0019,"f":0.0032,"g":2.2,"h":2.2},{"k":227,"e":0.0026,"f":0.0015,"g":1.4,"h":5.9},{"k":228,"e":0.0017,"f":0.0021,"g":3.2,"h":1.6},{"k":229,"e":0.004,"f":0.0017,"g":2.0,"h":2.6},{"k":230,"e":0.0022,"f":0.0027,"g":1.5,"h":1.3},{"k":231,"e":0.0014,"f":0.0014,"g":2.6,"h":3.1},
{"k":232,"e":0.0024,"f":0.002,"g":1.2,"h":2.0},{"k":233,"e":0.0051,"f":0.0032,"g":2.3,"h":1.7},{"k":234,"e":0.0018,"f":0.0016,"g":1.8,"h":4.9},{"k":235,"e":0.0013,"f":0.0022,"g":2.9,"h":2.4},{"k":236,"e":0.0021,"f":0.0019,"g":1.4,"h":1.5},{"k":237,"e":0.0016,"f":0.0046,"g":2.1,"h":2.8},{"k":238,"e":0.0037,"f":0.0028,"g":1.6,"h":1.9},{"k":239,"e":0.0015,"f":0.0047,"g":2.5,"h":3.2},
{"k":240,"e":0.002,"f":0.0021,"g":5.1,"h":6.4},{"k":241,"e":0.0014,"f":0.0026,"g":1.9,"h":2.1},{"k":242,"e":0.0018,"f":0.0018,"g":2.4,"h":2.6},{"k":243,"e":0.0023,"f":0.0065,"g":1.3,"h":3.8},{"k":244,"e":0.0013,"f":0.0083,"g":2.2,"h":5.9},{"k":245,"e":0.0022,"f":0.0022,"g":1.7,"h":4.25},{"k":246,"e":0.0016,"f":0.0017,"g":2.8,"h":2.3},{"k":247,"e":0.0012,"f":0.0019,"g":4.9,"h":1.7},
{"k":248,"e":0.0019,"f":0.0013,"g":1.5,"h":1.9},{"k":249,"e":0.0014,"f":0.0018,"g":2.3,"h":1.4},{"k":250,"e":0.0021,"f":0.0015,"g":1.2,"h":3.4},{"k":251,"e":0.0015,"f":0.002,"g":1.8,"h":1.6},{"k":252,"e":0.0013,"f":0.0016,"g":1.4,"h":0.9},{"k":253,"e":0.0017,"f":0.0018,"g":3.1,"h":1.2},{"k":254,"e":0.0018,"f":0.0014,"g":1.6,"h":1.0},{"k":255,"e":0.001,"f":0.0013,"g":1.1,"h":0.9}
 ]
},
"columns": 4,
"align": "each",
"spacing": {"row": 16, "column": 0},
"resolve": {"scale": {"color": "independent"}, "legend": {"color": "independent"}},
"concat": [
 {"width": 266, "height": 163,
  "layer": [
   {"data": {"name": "A"}, "mark": {"type": "area", "color": "#d6d6d6"},
    "encoding": {
     "x": {"field": "x", "type": "quantitative", "scale": {"domain": [-276, 30580], "nice": false, "zero": false}, "axis": {"values": [1000, 10000, 20000, 30000], "format": "~s", "title": ["Number of Traces", "(a)"], "titlePadding": 2}},
     "y": {"field": "lo", "type": "quantitative", "scale": {"domain": [-0.00066, 0.0146], "nice": false, "zero": false}, "axis": {"values": [0, 0.004, 0.008, 0.012], "labelExpr": "datum.value == 0 ? '0' : format(datum.value, '.3f')", "title": "Difference", "titlePadding": 0}},
     "y2": {"field": "hi"}}},
   {"data": {"name": "A"}, "transform": [{"fold": ["l1","l2","l3","l4","l5","l6","l7","l8","l9","l10","l11","l12","l13","l14","l15","l16","l17","l18"], "as": ["id", "y"]}],
    "mark": {"type": "line", "color": "#c4c4c4", "opacity": 0.45, "strokeWidth": 1},
    "encoding": {"x": {"field": "x", "type": "quantitative"}, "y": {"field": "y", "type": "quantitative"}, "detail": {"field": "id", "type": "nominal"}}},
   {"data": {"name": "ann"}, "transform": [{"filter": "datum.p == 'a'"}], "mark": {"type": "rule", "color": "#000", "strokeDash": [3, 2], "strokeWidth": 1.3},
    "encoding": {"x": {"field": "x", "type": "quantitative"}, "y": {"field": "yt", "type": "quantitative"}, "y2": {"field": "yb"}}},
   {"data": {"name": "RA"}, "mark": {"type": "line", "strokeWidth": 1.6},
    "encoding": {"x": {"field": "x", "type": "quantitative"}, "y": {"field": "y", "type": "quantitative"},
     "color": {"datum": "Correct key", "type": "nominal", "scale": {"domain": ["Correct key"], "range": ["#ff2b2b"]}, "legend": {"orient": "none", "legendX": 176, "legendY": 4, "title": null, "symbolType": "stroke", "symbolSize": 250, "symbolStrokeWidth": 3}}}},
   {"data": {"name": "ann"}, "transform": [{"filter": "datum.p == 'a'"}], "mark": {"type": "rule", "color": "#ff0000", "strokeWidth": 3},
    "encoding": {"x": {"field": "hx", "type": "quantitative"}, "x2": {"field": "tx"}, "y": {"field": "ty", "type": "quantitative"}}},
   {"data": {"name": "ann"}, "transform": [{"filter": "datum.p == 'a'"}], "mark": {"type": "point", "shape": "triangle-left", "filled": true, "color": "#ff0000", "opacity": 1, "size": 70},
    "encoding": {"x": {"field": "hx", "type": "quantitative"}, "y": {"field": "ty", "type": "quantitative"}}},
   {"data": {"name": "ann"}, "transform": [{"filter": "datum.p == 'a'"}], "mark": {"type": "text", "align": "left", "baseline": "middle", "fontSize": 17, "color": "#000"},
    "encoding": {"x": {"field": "lx", "type": "quantitative"}, "y": {"field": "ty", "type": "quantitative"}, "text": {"field": "label"}}}
  ]},
 {"width": 266, "height": 163,
  "layer": [
   {"data": {"name": "B"}, "mark": {"type": "area", "color": "#d6d6d6"},
    "encoding": {
     "x": {"field": "x", "type": "quantitative", "scale": {"domain": [-403, 30700], "nice": false, "zero": false}, "axis": {"values": [1000, 10000, 20000, 30000], "format": "~s", "title": ["Number of Traces", "(b)"], "titlePadding": 2}},
     "y": {"field": "lo", "type": "quantitative", "scale": {"domain": [-0.00066, 0.0146], "nice": false, "zero": false}, "axis": {"values": [0, 0.004, 0.008, 0.012], "labelExpr": "datum.value == 0 ? '0' : format(datum.value, '.3f')", "title": "Difference", "titlePadding": 0}},
     "y2": {"field": "hi"}}},
   {"data": {"name": "B"}, "transform": [{"fold": ["l1","l2","l3","l4","l5","l6","l7","l8","l9","l10","l11","l12","l13","l14"], "as": ["id", "y"]}],
    "mark": {"type": "line", "color": "#c4c4c4", "opacity": 0.45, "strokeWidth": 1},
    "encoding": {"x": {"field": "x", "type": "quantitative"}, "y": {"field": "y", "type": "quantitative"}, "detail": {"field": "id", "type": "nominal"}}},
   {"data": {"name": "ann"}, "transform": [{"filter": "datum.p == 'b'"}], "mark": {"type": "rule", "color": "#000", "strokeDash": [3, 2], "strokeWidth": 1.3},
    "encoding": {"x": {"field": "x", "type": "quantitative"}, "y": {"field": "yt", "type": "quantitative"}, "y2": {"field": "yb"}}},
   {"data": {"name": "RB"}, "mark": {"type": "line", "strokeWidth": 1.6},
    "encoding": {"x": {"field": "x", "type": "quantitative"}, "y": {"field": "y", "type": "quantitative"},
     "color": {"datum": "Correct key", "type": "nominal", "scale": {"domain": ["Correct key"], "range": ["#ff2b2b"]}, "legend": {"orient": "none", "legendX": 177, "legendY": 4, "title": null, "symbolType": "stroke", "symbolSize": 250, "symbolStrokeWidth": 3}}}},
   {"data": {"name": "ann"}, "transform": [{"filter": "datum.p == 'b'"}], "mark": {"type": "rule", "color": "#ff0000", "strokeWidth": 3},
    "encoding": {"x": {"field": "hx", "type": "quantitative"}, "x2": {"field": "tx"}, "y": {"field": "ty", "type": "quantitative"}}},
   {"data": {"name": "ann"}, "transform": [{"filter": "datum.p == 'b'"}], "mark": {"type": "point", "shape": "triangle-left", "filled": true, "color": "#ff0000", "opacity": 1, "size": 70},
    "encoding": {"x": {"field": "hx", "type": "quantitative"}, "y": {"field": "ty", "type": "quantitative"}}},
   {"data": {"name": "ann"}, "transform": [{"filter": "datum.p == 'b'"}], "mark": {"type": "text", "align": "left", "baseline": "middle", "fontSize": 17, "color": "#000"},
    "encoding": {"x": {"field": "lx", "type": "quantitative"}, "y": {"field": "ty", "type": "quantitative"}, "text": {"field": "label"}}}
  ]},
 {"width": 271, "height": 163,
  "layer": [
   {"data": {"name": "C"}, "mark": {"type": "area", "color": "#d6d6d6"},
    "encoding": {
     "x": {"field": "x", "type": "quantitative", "scale": {"domain": [-3810, 104810], "nice": false, "zero": false}, "axis": {"values": [1000, 10000, 20000, 30000, 40000, 50000, 60000, 70000, 80000, 90000, 100000], "format": "~s", "labelFontSize": 11, "labelOverlap": false, "title": ["Number of Traces", "(c)"], "titlePadding": 3}},
     "y": {"field": "lo", "type": "quantitative", "scale": {"domain": [-1.75, 39], "nice": false, "zero": false}, "axis": {"values": [0, 10, 20, 30], "title": "Difference", "titlePadding": 8}},
     "y2": {"field": "hi"}}},
   {"data": {"name": "C"}, "transform": [{"fold": ["l1","l2","l3","l4","l5","l6","l7","l8","l9","l10","l11","l12","l13","l14","l15"], "as": ["id", "y"]}],
    "mark": {"type": "line", "color": "#c4c4c4", "opacity": 0.45, "strokeWidth": 1},
    "encoding": {"x": {"field": "x", "type": "quantitative"}, "y": {"field": "y", "type": "quantitative"}, "detail": {"field": "id", "type": "nominal"}}},
   {"data": {"name": "RC"}, "mark": {"type": "line", "strokeWidth": 1.8},
    "encoding": {"x": {"field": "x", "type": "quantitative"}, "y": {"field": "y", "type": "quantitative"},
     "color": {"datum": "Correct key", "type": "nominal", "scale": {"domain": ["Correct key"], "range": ["#2b2bff"]}, "legend": {"orient": "none", "legendX": 177, "legendY": 5, "title": null, "symbolType": "stroke", "symbolSize": 250, "symbolStrokeWidth": 3}}}}
  ]},
 {"width": 272, "height": 163,
  "layer": [
   {"data": {"name": "D"}, "mark": {"type": "area", "color": "#d6d6d6"},
    "encoding": {
     "x": {"field": "x", "type": "quantitative", "scale": {"domain": [-3810, 105210], "nice": false, "zero": false}, "axis": {"values": [1000, 10000, 20000, 30000, 40000, 50000, 60000, 70000, 80000, 90000, 100000], "format": "~s", "labelFontSize": 11, "labelOverlap": false, "title": ["Number of Traces", "(d)"], "titlePadding": 3}},
     "y": {"field": "lo", "type": "quantitative", "scale": {"domain": [-1.75, 39], "nice": false, "zero": false}, "axis": {"values": [0, 10, 20, 30], "title": "Difference", "titlePadding": 4}},
     "y2": {"field": "hi"}}},
   {"data": {"name": "D"}, "transform": [{"fold": ["l1","l2","l3","l4","l5","l6","l7","l8","l9","l10","l11","l12","l13","l14"], "as": ["id", "y"]}],
    "mark": {"type": "line", "color": "#c4c4c4", "opacity": 0.45, "strokeWidth": 1},
    "encoding": {"x": {"field": "x", "type": "quantitative"}, "y": {"field": "y", "type": "quantitative"}, "detail": {"field": "id", "type": "nominal"}}},
   {"data": {"name": "RD"}, "mark": {"type": "line", "strokeWidth": 1.8},
    "encoding": {"x": {"field": "x", "type": "quantitative"}, "y": {"field": "y", "type": "quantitative"},
     "color": {"datum": "Correct key", "type": "nominal", "scale": {"domain": ["Correct key"], "range": ["#2b2bff"]}, "legend": {"orient": "none", "legendX": 178, "legendY": 5, "title": null, "symbolType": "stroke", "symbolSize": 250, "symbolStrokeWidth": 3}}}}
  ]},
 {"width": 266, "height": 163,
  "layer": [
   {"data": {"name": "bars"}, "mark": {"type": "bar", "size": 1.8, "color": "#000", "opacity": 0.22},
    "encoding": {
     "x": {"field": "k", "type": "quantitative", "scale": {"domain": [-14.6, 262.3], "nice": false, "zero": false}, "axis": {"values": [0, 255], "labelExpr": "datum.value == 0 ? '00' : 'FF'", "labelFontSize": 11, "labelPadding": 1, "title": ["Subkey", "(e)"], "titlePadding": -5}},
     "y": {"field": "e", "type": "quantitative", "stack": null, "scale": {"domain": [0, 0.00876], "nice": false}, "axis": {"values": [0, 0.002, 0.004, 0.006, 0.008], "labelExpr": "datum.value == 0 ? '0' : format(datum.value, '.3f')", "title": "Difference", "titlePadding": 0}}}},
   {"data": {"name": "stars"}, "transform": [{"filter": "datum.p == 'e'"}], "mark": {"type": "point", "shape": "M0,-1L0.2245,-0.309L0.951,-0.309L0.363,0.118L0.588,0.809L0,0.382L-0.588,0.809L-0.363,0.118L-0.951,-0.309L-0.2245,-0.309Z", "filled": true, "opacity": 1, "size": 260},
    "encoding": {"x": {"field": "k", "type": "quantitative"}, "y": {"field": "v", "type": "quantitative"},
     "color": {"datum": "Correct key", "type": "nominal", "scale": {"domain": ["Correct key"], "range": ["#ff0000"]}, "legend": {"orient": "none", "legendX": 180, "legendY": 5, "title": null, "symbolType": "M0,-1L0.2245,-0.309L0.951,-0.309L0.363,0.118L0.588,0.809L0,0.382L-0.588,0.809L-0.363,0.118L-0.951,-0.309L-0.2245,-0.309Z", "symbolSize": 260}}}}
  ]},
 {"width": 266, "height": 163,
  "layer": [
   {"data": {"name": "bars"}, "mark": {"type": "bar", "size": 1.8, "color": "#000", "opacity": 0.22},
    "encoding": {
     "x": {"field": "k", "type": "quantitative", "scale": {"domain": [-13.7, 261.2], "nice": false, "zero": false}, "axis": {"values": [0, 255], "labelExpr": "datum.value == 0 ? '00' : 'FF'", "labelFontSize": 11, "labelPadding": 1, "title": ["Subkey", "(f)"], "titlePadding": -5}},
     "y": {"field": "f", "type": "quantitative", "stack": null, "scale": {"domain": [0, 0.00875], "nice": false}, "axis": {"values": [0, 0.002, 0.004, 0.006, 0.008], "labelExpr": "datum.value == 0 ? '0' : format(datum.value, '.3f')", "title": "Difference", "titlePadding": 0}}}},
   {"data": {"name": "stars"}, "transform": [{"filter": "datum.p == 'f'"}], "mark": {"type": "point", "shape": "M0,-1L0.2245,-0.309L0.951,-0.309L0.363,0.118L0.588,0.809L0,0.382L-0.588,0.809L-0.363,0.118L-0.951,-0.309L-0.2245,-0.309Z", "filled": true, "opacity": 1, "size": 260},
    "encoding": {"x": {"field": "k", "type": "quantitative"}, "y": {"field": "v", "type": "quantitative"},
     "color": {"datum": "Correct key", "type": "nominal", "scale": {"domain": ["Correct key"], "range": ["#ff0000"]}, "legend": {"orient": "none", "legendX": 149, "legendY": 3, "title": null, "symbolType": "M0,-1L0.2245,-0.309L0.951,-0.309L0.363,0.118L0.588,0.809L0,0.382L-0.588,0.809L-0.363,0.118L-0.951,-0.309L-0.2245,-0.309Z", "symbolSize": 260}}}}
  ]},
 {"width": 271, "height": 163,
  "layer": [
   {"data": {"name": "bars"}, "mark": {"type": "bar", "size": 1.8, "color": "#000", "opacity": 0.22},
    "encoding": {
     "x": {"field": "k", "type": "quantitative", "scale": {"domain": [-12.7, 266.4], "nice": false, "zero": false}, "axis": {"values": [0, 255], "labelExpr": "datum.value == 0 ? '00' : 'FF'", "labelFontSize": 11, "labelPadding": 1, "title": ["Subkey", "(g)"], "titlePadding": -5}},
     "y": {"field": "g", "type": "quantitative", "stack": null, "scale": {"domain": [0, 9.74], "nice": false}, "axis": {"values": [0, 2, 4, 6, 8], "title": "Difference", "titlePadding": 8}}}},
   {"data": {"name": "stars"}, "transform": [{"filter": "datum.p == 'g'"}], "mark": {"type": "point", "shape": "M0,-1L0.2245,-0.309L0.951,-0.309L0.363,0.118L0.588,0.809L0,0.382L-0.588,0.809L-0.363,0.118L-0.951,-0.309L-0.2245,-0.309Z", "filled": true, "opacity": 1, "size": 260},
    "encoding": {"x": {"field": "k", "type": "quantitative"}, "y": {"field": "v", "type": "quantitative"},
     "color": {"datum": "Correct key", "type": "nominal", "scale": {"domain": ["Correct key"], "range": ["#1010ff"]}, "legend": {"orient": "none", "legendX": 179, "legendY": 3, "title": null, "symbolType": "M0,-1L0.2245,-0.309L0.951,-0.309L0.363,0.118L0.588,0.809L0,0.382L-0.588,0.809L-0.363,0.118L-0.951,-0.309L-0.2245,-0.309Z", "symbolSize": 260}}}}
  ]},
 {"width": 272, "height": 163,
  "layer": [
   {"data": {"name": "bars"}, "mark": {"type": "bar", "size": 1.8, "color": "#000", "opacity": 0.22},
    "encoding": {
     "x": {"field": "k", "type": "quantitative", "scale": {"domain": [-12.6, 267.2], "nice": false, "zero": false}, "axis": {"values": [0, 255], "labelExpr": "datum.value == 0 ? '00' : 'FF'", "labelFontSize": 11, "labelPadding": 1, "title": ["Subkey", "(h)"], "titlePadding": -5}},
     "y": {"field": "h", "type": "quantitative", "stack": null, "scale": {"domain": [0, 9.74], "nice": false}, "axis": {"values": [0, 2, 4, 6, 8], "title": "Difference", "titlePadding": 4}}}},
   {"data": {"name": "stars"}, "transform": [{"filter": "datum.p == 'h'"}], "mark": {"type": "point", "shape": "M0,-1L0.2245,-0.309L0.951,-0.309L0.363,0.118L0.588,0.809L0,0.382L-0.588,0.809L-0.363,0.118L-0.951,-0.309L-0.2245,-0.309Z", "filled": true, "opacity": 1, "size": 260},
    "encoding": {"x": {"field": "k", "type": "quantitative"}, "y": {"field": "v", "type": "quantitative"},
     "color": {"datum": "Correct key", "type": "nominal", "scale": {"domain": ["Correct key"], "range": ["#1010ff"]}, "legend": {"orient": "none", "legendX": 181, "legendY": 3, "title": null, "symbolType": "M0,-1L0.2245,-0.309L0.951,-0.309L0.363,0.118L0.588,0.809L0,0.382L-0.588,0.809L-0.363,0.118L-0.951,-0.309L-0.2245,-0.309Z", "symbolSize": 260}}}}
  ]}
]
}
